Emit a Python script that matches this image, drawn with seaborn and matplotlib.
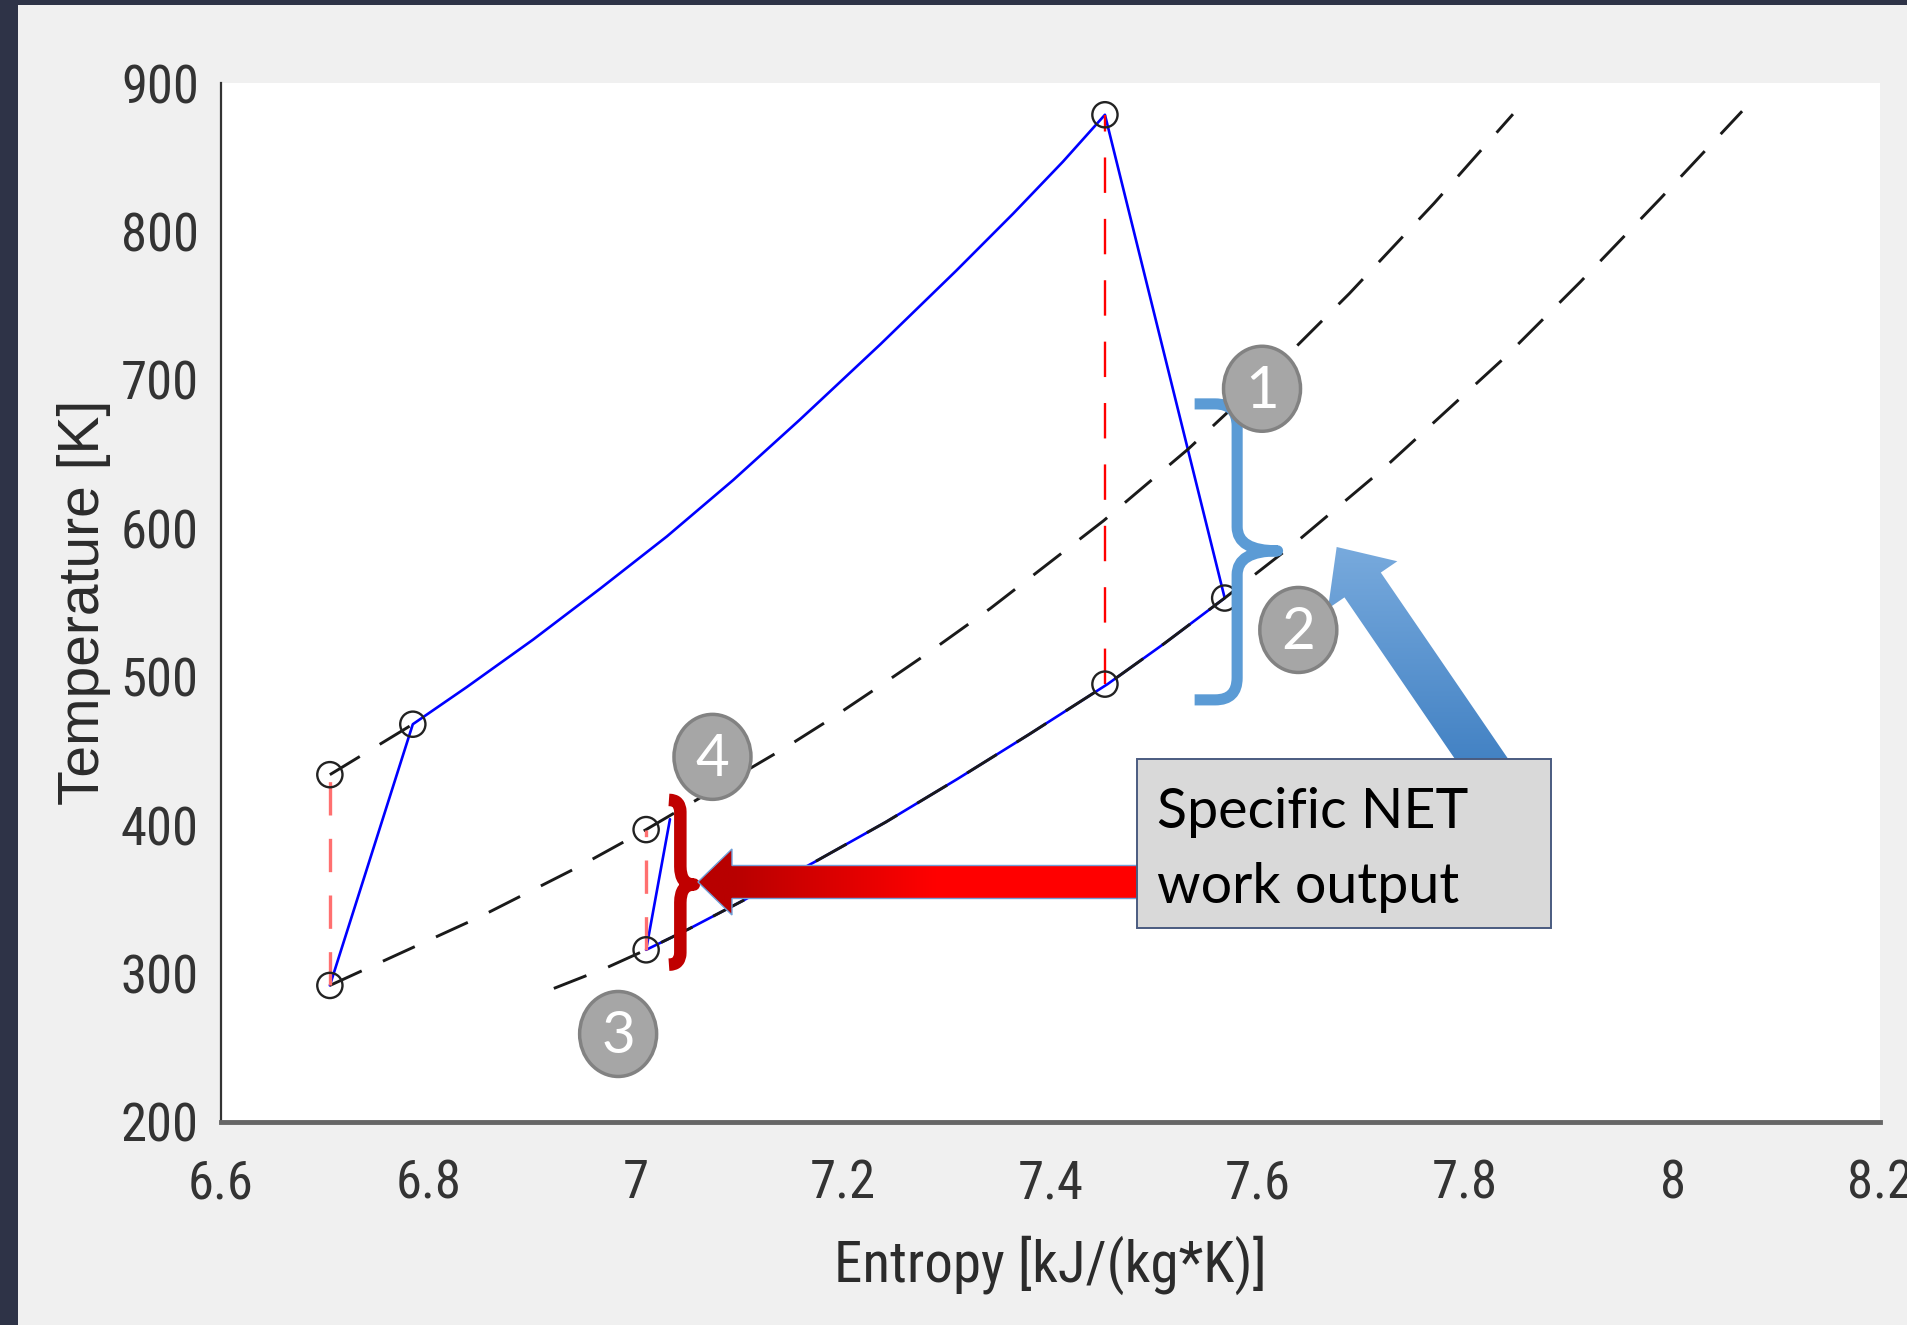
import os
import numpy as np
import seaborn as sns
import matplotlib.pyplot as plt
from matplotlib import font_manager as fm
from matplotlib.patches import Rectangle, Ellipse, Polygon, PathPatch
from matplotlib.path import Path
from matplotlib.colors import to_rgb

# ---- values ----
# blue cycle path: entropy [kJ/(kg*K)], temperature [K]
cycle_s = [6.705, 6.785, 6.837, 6.901, 6.966, 7.030, 7.094, 7.158, 7.236, 7.309,
           7.364, 7.412, 7.4525, 7.568, 7.510, 7.455, 7.379, 7.310, 7.241, 7.172,
           7.103, 7.051, 7.010, 7.033]
cycle_T = [292, 468, 493, 525, 559.5, 594.5, 632.5, 673, 724, 773.5,
           812, 847, 878.6, 553, 522.5, 495, 461, 431, 402, 375,
           349, 330, 316, 404]

# black dashed isobars
iso_short_s = [6.705, 6.785]
iso_short_T = [434, 468]
iso_mid_s = [6.705, 6.849, 6.945, 7.010, 7.145, 7.189, 7.237, 7.283, 7.342, 7.451,
             7.533, 7.612, 7.688, 7.770, 7.846]
iso_mid_T = [292, 338, 372, 397, 452.5, 472, 494.5, 516.5, 546, 605,
             653.5, 705, 758, 819, 879]
iso_low_s = [6.921, 6.972, 7.010, 7.051, 7.103, 7.172, 7.241, 7.310, 7.379,
             7.455, 7.510, 7.568, 7.635, 7.720, 7.838, 7.911, 7.988, 8.067]
iso_low_T = [290, 304, 316, 330, 349, 375, 402, 431, 461,
             495, 522.5, 553, 589.5, 639.5, 715, 766, 822, 881]

# red dashed isentropic lines
isen_s = [6.705, 7.4525, 7.010]
isen_T_low = [292, 495, 316]
isen_T_high = [434, 878.6, 397]

# state points (open circles)
state_s = [6.705, 6.705, 6.785, 7.4525, 7.4525, 7.568, 7.010, 7.010]
state_T = [292, 434, 468, 878.6, 495, 553, 316, 397]

xticks = [6.6, 6.8, 7.0, 7.2, 7.4, 7.6, 7.8, 8.0, 8.2]
xtick_labels = ['6.6', '6.8', '7', '7.2', '7.4', '7.6', '7.8', '8', '8.2']
yticks = [200, 300, 400, 500, 600, 700, 800, 900]

badge_labels = ['1', '2', '3', '4']
box_lines = ['Specific NET', 'work output']


def narrow_font():
    files = [f.fname for f in fm.fontManager.ttflist]
    prefer = ['liberationsansnarrow-regular', 'robotocondensed-regular',
              'opensans_condensed-regular', 'opensanscondensed-regular',
              'dejavusanscondensed.ttf']
    for key in prefer:
        for fn in files:
            if key in os.path.basename(fn).lower():
                return fn
    skip = ('bold', 'italic', 'oblique', 'light', 'thin', 'black', 'medium', 'semi', 'extra')
    for fn in files:
        base = os.path.basename(fn).lower()
        if ('narrow' in base or 'condensed' in base) and not any(k in base for k in skip):
            return fn
    return None


# ---- figure ----
sns.set_style('white')
plt.rcParams['font.family'] = ['Liberation Sans', 'DejaVu Sans']

narrow = narrow_font()
if narrow:
    tick_fp = fm.FontProperties(fname=narrow, size=38)
    label_fp = fm.FontProperties(fname=narrow, size=41)
else:
    tick_fp = fm.FontProperties(family=['Liberation Sans', 'DejaVu Sans'], size=33)
    label_fp = fm.FontProperties(family=['Liberation Sans', 'DejaVu Sans'], size=37)

W, H = 1908, 1325
fig = plt.figure(figsize=(W / 100, H / 100), dpi=100)
fig.set_facecolor('#f0f0f0')
ax = fig.add_axes([221 / W, 203 / H, 1659 / W, 1039 / H])
ax.set_facecolor('white')

sns.lineplot(x=cycle_s, y=cycle_T, sort=False, estimator=None, color='#0000ff',
             lw=1.9, ax=ax, zorder=3)
for s, T in [(iso_short_s, iso_short_T), (iso_mid_s, iso_mid_T), (iso_low_s, iso_low_T)]:
    sns.lineplot(x=s, y=T, sort=False, estimator=None, color='#1a1a1a', lw=2.1,
                 dashes=(12, 8), ax=ax, zorder=4)
for s, lo, hi in zip(isen_s, isen_T_low, isen_T_high):
    short = hi - lo < 200
    sns.lineplot(x=[s, s], y=[lo, hi], sort=False, estimator=None,
                 color='#ff7070' if short else '#ff0000', lw=2.4 if short else 1.7,
                 dashes=(10, 7) if short else (15, 11), ax=ax, zorder=5)
sns.scatterplot(x=state_s, y=state_T, marker='o', s=330, ax=ax, zorder=6,
                edgecolor='#222222', linewidth=1.7)
ax.collections[-1].set_facecolor('none')

ax.set_xlim(6.6, 8.2)
ax.set_ylim(200, 900)
ax.set_xticks(xticks, xtick_labels)
ax.set_yticks(yticks)
ax.tick_params(axis='x', direction='in', length=10, width=1.2, colors='#333333', pad=26)
ax.tick_params(axis='y', direction='in', length=10, width=1.5, colors='#333333', pad=16)
for lbl in ax.get_xticklabels() + ax.get_yticklabels():
    lbl.set_fontproperties(tick_fp)
for side in ['top', 'right']:
    ax.spines[side].set_visible(False)
ax.spines['left'].set_linewidth(1.6)
ax.spines['left'].set_color('#333333')
ax.spines['bottom'].set_linewidth(3.5)
ax.spines['bottom'].set_color('#666666')
ax.set_xlabel('Entropy [kJ/(kg*K)]', color='#2b2b2b', labelpad=19,
              fontproperties=label_fp)
ax.set_ylabel('Temperature [K]', fontsize=41, color='#2b2b2b', labelpad=7)

# dark frame strips
fig.add_artist(Rectangle((0, 0), 18 / W, 1, transform=fig.transFigure,
                         fc='#2e3347', ec='none', zorder=20))
fig.add_artist(Rectangle((0, 1 - 5 / H), 1, 5 / H, transform=fig.transFigure,
                         fc='#2e3347', ec='none', zorder=20))

# ---- callouts, drawn in pixel space on an overlay ----
ov = fig.add_axes([0, 0, 1, 1], zorder=10)
ov.set_xlim(0, W)
ov.set_ylim(0, H)
ov.axis('off')


def px(s, T):
    return ax.transData.transform((s, T))


def brace(s_end, s_spine, s_tip, T_top, T_mid, T_bot, r, rc, color, lw):
    x_end, y_top = px(s_end, T_top)
    x_sp, y_mid = px(s_spine, T_mid)
    x_tip, _ = px(s_tip, T_mid)
    _, y_bot = px(s_end, T_bot)
    re = min(r, x_sp - x_end)
    verts = [(x_end, y_top), (x_sp - re, y_top), (x_sp, y_top), (x_sp, y_top - r),
             (x_sp, y_mid + rc), (x_sp, y_mid), (x_tip, y_mid),
             (x_sp, y_mid), (x_sp, y_mid - rc),
             (x_sp, y_bot + r), (x_sp, y_bot), (x_sp - re, y_bot), (x_end, y_bot)]
    codes = [Path.MOVETO, Path.LINETO, Path.CURVE3, Path.CURVE3,
             Path.LINETO, Path.CURVE3, Path.CURVE3, Path.CURVE3, Path.CURVE3,
             Path.LINETO, Path.CURVE3, Path.CURVE3, Path.LINETO]
    ov.add_patch(PathPatch(Path(verts, codes), fc='none', ec=color, lw=lw,
                           capstyle='butt', joinstyle='round', zorder=3))


def arrow_poly(tip, tail, sw, hw, hl):
    tip = np.asarray(tip, float)
    tail = np.asarray(tail, float)
    u = (tail - tip) / np.linalg.norm(tail - tip)
    n = np.array([-u[1], u[0]])
    b = tip + u * hl
    return [tip, b + n * hw / 2, b + n * sw / 2, tail + n * sw / 2,
            tail - n * sw / 2, b - n * sw / 2, b - n * hw / 2]


def gradient_fill(poly, img, edge, lw, z):
    poly = np.asarray(poly)
    patch = Polygon(poly, closed=True, fc='none', ec=edge, lw=lw, zorder=z + 0.1)
    ov.add_patch(patch)
    x0, y0 = poly.min(axis=0)
    x1, y1 = poly.max(axis=0)
    im = ov.imshow(img, extent=(x0, x1, y0, y1), origin='lower', aspect='auto',
                   interpolation='bilinear', zorder=z)
    im.set_clip_path(patch)


brace(7.539, 7.580, 7.619, 683.8, 584.8, 484.4, 22, 24, '#5b9bd5', 8)
brace(7.032, 7.043, 7.056, 417, 360, 306, 12, 18, '#c00000', 9)

# blue arrow pointing up-left to the blue brace
n = 256
t = np.linspace(0, 1, n)[:, None]
c_dark, c_light = np.array(to_rgb('#3b7cc0')), np.array(to_rgb('#78aadd'))
blue_img = (c_dark * (1 - t) + c_light * t)[:, None, :]
gradient_fill(arrow_poly(px(7.676, 587.4), px(7.830, 430), 44, 84, 46),
              blue_img, 'none', 0, 4)

# red arrow pointing left to the red brace
f = np.clip((np.linspace(0, 1, n) - 0.08) / 0.45, 0, 1)[:, None]
c_a, c_b = np.array(to_rgb('#b80000')), np.array(to_rgb('#ff0000'))
red_img = (c_a * (1 - f) + c_b * f)[None, :, :]
gradient_fill(arrow_poly(px(7.060, 361.7), px(7.490, 361.7), 33, 66, 34),
              red_img, '#6f9fd8', 1.0, 4)

# text box
bx0, by0 = px(7.483, 330.7)
bx1, by1 = px(7.883, 444.6)
ov.add_patch(Rectangle((bx0, by0), bx1 - bx0, by1 - by0, fc='#d9d9d9',
                       ec='#4a5b80', lw=1.4, zorder=6))
for line, T in zip(box_lines, [398.1, 347.6]):
    x, y = px(7.503, T)
    ov.text(x, y, line, fontsize=40, family=['Lato', 'DejaVu Sans'], color='black',
            ha='left', va='baseline', zorder=7)

# numbered badges
badge_pos = [(7.604, 694), (7.639, 531.5), (6.983, 259.3), (7.074, 446)]
for lab, (s, T) in zip(badge_labels, badge_pos):
    x, y = px(s, T)
    ov.add_patch(Ellipse((x, y), 77, 85, fc='#a6a6a6', ec='#828282', lw=2.5, zorder=8))
    ov.text(x, y - 3, lab, fontsize=42, family=['Lato', 'DejaVu Sans'], color='white',
            ha='center', va='center', zorder=9)

ov.set_xlim(0, W)
ov.set_ylim(0, H)

fig.savefig('out.png', dpi=100, facecolor=fig.get_facecolor())
